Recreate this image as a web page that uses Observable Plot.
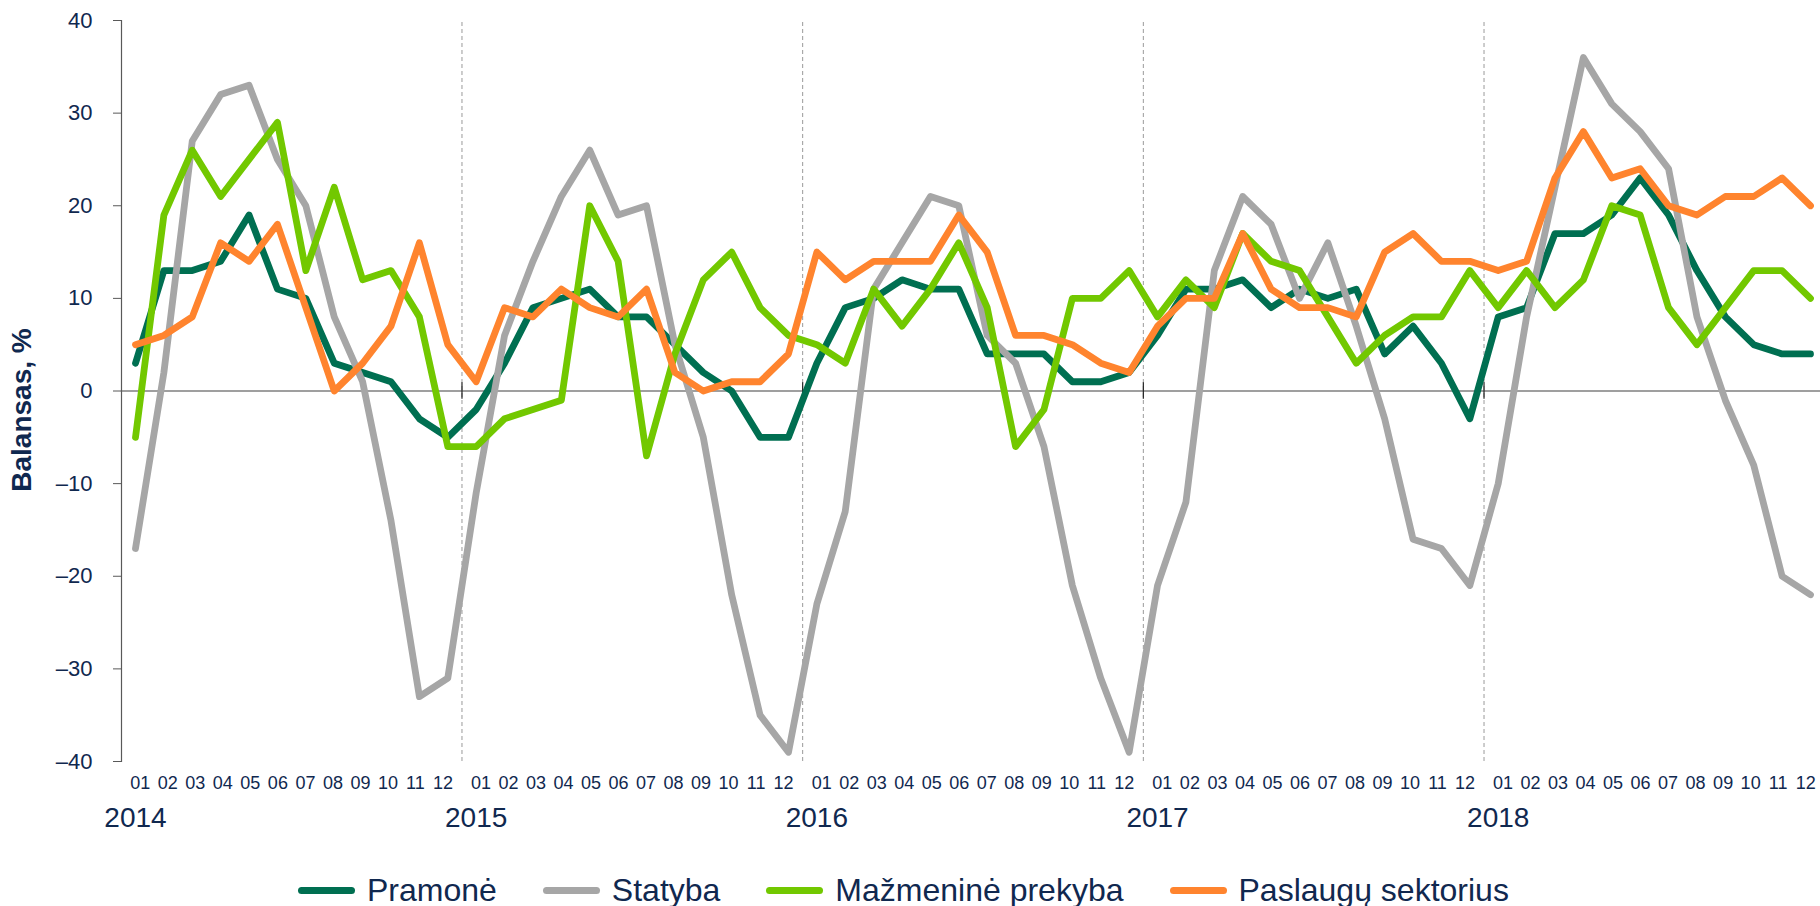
<!DOCTYPE html>
<html>
<head>
<meta charset="utf-8">
<script src="https://cdn.jsdelivr.net/npm/d3@7"></script>
<script src="https://cdn.jsdelivr.net/npm/@observablehq/plot@0.6"></script>
<style>
  html, body { margin: 0; padding: 0; background: #fff; }
  body { width: 1820px; height: 906px; position: relative; overflow: hidden; font-family: "Liberation Sans", Arial, sans-serif; }
  #legend { position: absolute; left: 298px; top: 868px; display: flex; align-items: center; color: #10284f; font-size: 32px; line-height: 44px; white-space: nowrap; }
  .item { display: flex; align-items: center; margin-right: 46px; }
  .sw { width: 57px; height: 7px; border-radius: 4px; margin-right: 12px; }
</style>
</head>
<body>
<div id="chart"></div>
<div id="legend"></div>
<script>
const months = ["01","02","03","04","05","06","07","08","09","10","11","12"];
const years = ["2014","2015","2016","2017","2018"];
const seriesNames = ["Pramonė","Statyba","Mažmeninė prekyba","Paslaugų sektorius"];
const yTicks = [-40,-30,-20,-10,0,10,20,30,40];

const pramone = [
  3, 13, 13, 14, 19, 11, 10, 3, 2, 1, -3, -5,
  -2, 3, 9, 10, 11, 8, 8, 5, 2, 0, -5, -5,
  3, 9, 10, 12, 11, 11, 4, 4, 4, 1, 1, 2,
  6, 11, 11, 12, 9, 11, 10, 11, 4, 7, 3, -3,
  8, 9, 17, 17, 19, 23, 19, 13, 8, 5, 4, 4
];
const statyba = [
  -17, 2, 27, 32, 33, 25, 20, 8, 1, -14, -33, -31,
  -11, 6, 14, 21, 26, 19, 20, 5, -5, -22, -35, -39,
  -23, -13, 11, 16, 21, 20, 6, 3, -6, -21, -31, -39,
  -21, -12, 13, 21, 18, 10, 16, 7, -3, -16, -17, -21,
  -10, 8, 22, 36, 31, 28, 24, 8, -1, -8, -20, -22
];
const mazmenine = [
  -5, 19, 26, 21, 25, 29, 13, 22, 12, 13, 8, -6,
  -6, -3, -2, -1, 20, 14, -7, 4, 12, 15, 9, 6,
  5, 3, 11, 7, 11, 16, 9, -6, -2, 10, 10, 13,
  8, 12, 9, 17, 14, 13, 8, 3, 6, 8, 8, 13,
  9, 13, 9, 12, 20, 19, 9, 5, 9, 13, 13, 10
];
const paslaugu = [
  5, 6, 8, 16, 14, 18, 9, 0, 3, 7, 16, 5,
  1, 9, 8, 11, 9, 8, 11, 2, 0, 1, 1, 4,
  15, 12, 14, 14, 14, 19, 15, 6, 6, 5, 3, 2,
  7, 10, 10, 17, 11, 9, 9, 8, 15, 17, 14, 14,
  13, 14, 23, 28, 23, 24, 20, 19, 21, 21, 23, 20
];

const colors = ["#006f51", "#a6a6a6", "#72c800", "#ff842e"];
const navy = "#10284f";
const allSeries = [pramone, statyba, mazmenine, paslaugu];

const rows = allSeries.map((vals, s) => vals.map((v, i) => ({i, v, s: seriesNames[s]})));
const idx = d3.range(pramone.length);
// month labels sit slightly compressed toward the middle of each year, as in the original
const monthRows = idx.map(i => {
  const yStart = Math.floor(i / 12) * 12, m = i % 12;
  return {i: yStart + 5.5 + (m - 5.5) * 0.969, label: months[m]};
});
const yearRows = years.map((y, k) => ({i: k * 12, label: y}));
const seps = years.slice(1).map((y, k) => (k + 1) * 12 - 0.5);

const marks = [
  Plot.ruleX(seps, {x: d => d, y1: -40, y2: 40, stroke: "#9a9a9a", strokeWidth: 1, strokeDasharray: "4,3"}),
  Plot.ruleY([0], {x1: -0.5, x2: 60, stroke: "#404040", strokeWidth: 1.2}),
  Plot.ruleX(seps, {x: d => d, y1: -0.9, y2: 0.9, stroke: "#222", strokeWidth: 1.2}),
  Plot.frame({anchor: "left", stroke: "#595959", strokeWidth: 1.2}),
  Plot.axisY({ticks: yTicks, tickSize: 8, tickPadding: 21, fontSize: 22, fill: navy, stroke: "#595959",
    tickFormat: d => d < 0 ? "–" + Math.abs(d) : String(d), label: null}),
  Plot.text(["Balansas, %"], {frameAnchor: "left", textAnchor: "middle", rotate: -90, dx: -99, dy: 19, fontSize: 28, fontWeight: "bold", fill: navy}),
  Plot.text(monthRows, {x: "i", text: "label", frameAnchor: "bottom", dy: 27, fontSize: 18, fill: navy}),
  Plot.text(yearRows, {x: "i", text: "label", frameAnchor: "bottom", dy: 65, fontSize: 28, fill: navy}),
  ...rows.map((r, s) => Plot.line(r, {x: "i", y: "v", stroke: colors[s], strokeWidth: 6.8, strokeLinejoin: "round", strokeLinecap: "round"}))
];

const chart = Plot.plot({
  width: 1820,
  height: 860,
  marginTop: 20,
  marginBottom: 99,
  marginLeft: 121,
  marginRight: 0,
  x: {type: "linear", domain: [0, 59], range: [135, 1810], axis: null},
  y: {domain: [-40, 40], range: [761, 20]},
  style: {fontFamily: "'Liberation Sans', Arial, sans-serif", background: "white", overflow: "visible"},
  marks
});
document.getElementById("chart").appendChild(chart);

const legend = document.getElementById("legend");
seriesNames.forEach((name, s) => {
  const item = document.createElement("div");
  item.className = "item";
  const sw = document.createElement("div");
  sw.className = "sw";
  sw.style.background = colors[s];
  const t = document.createElement("span");
  t.textContent = name;
  item.appendChild(sw);
  item.appendChild(t);
  legend.appendChild(item);
});
</script>
</body>
</html>
